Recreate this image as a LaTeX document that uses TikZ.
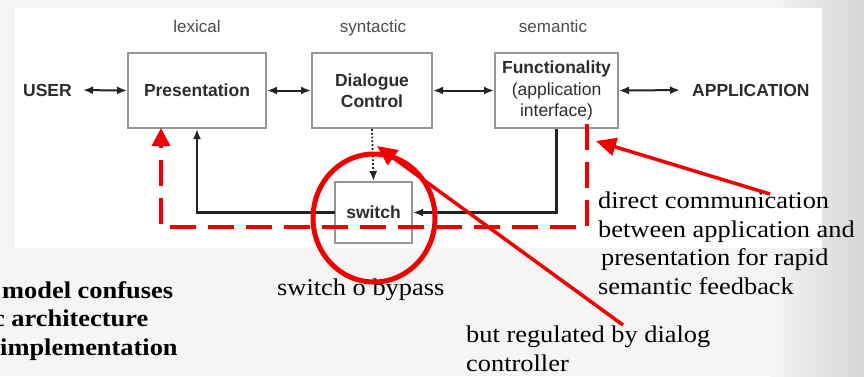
\documentclass[tikz,border=0pt]{standalone}
\usepackage{fontspec}
\setmainfont{Liberation Serif}[FakeStretch=1.1]
\setsansfont{Liberation Sans}
\usetikzlibrary{positioning,arrows,arrows.meta,shapes.geometric}

\definecolor{boxline}{RGB}{150,150,150}
\definecolor{wirecol}{RGB}{35,35,35}
\definecolor{boxtext}{RGB}{45,45,45}
\definecolor{slidebg}{RGB}{245,245,245}
\definecolor{slidered}{RGB}{240,0,0}

\tikzset{
  layerbox/.style={draw=boxline, line width=2pt, fill=white, inner sep=0pt, align=center,
    text=boxtext, font=\sffamily\bfseries\fontsize{17.5}{21.5}\selectfont},
  layerlabel/.style={anchor=base, text=boxtext!85, font=\sffamily\fontsize{17}{20}\selectfont},
  endlabel/.style={inner sep=2pt, text=boxtext, font=\sffamily\bfseries\fontsize{17.5}{20}\selectfont},
  link/.style={draw=wirecol, line width=2pt, {Latex[length=10pt,width=8pt]}-{Latex[length=10pt,width=8pt]}},
  wire/.style={draw=wirecol, line width=2.2pt, -{Latex[length=10pt,width=8pt]}},
  note/.style={inner sep=0pt, align=left, anchor=north west, font=\fontsize{24}{28.5}\selectfont},
  redmark/.style={draw=slidered, line width=3.5pt},
}

\begin{document}
\begin{tikzpicture}[x=1pt,y=-1pt,>=latex]
  \useasboundingbox (0,0) rectangle (864,376);
  % slide and panel
  \fill[slidebg] (0,0) rectangle (864,376);
  \shade[left color=slidebg, right color=white!84!black] (770,0) rectangle (864,376);
  \fill[white] (15,8) rectangle (822,248);

  \path
  % layers
  (197,90.5)   node[layerbox, minimum width=138pt, minimum height=75pt] (pres) {Presentation}
  (372,90.5)   node[layerbox, minimum width=120pt, minimum height=75pt] (dialog) {Dialogue\\Control}
  (556.5,90.5) node[layerbox, minimum width=123pt, minimum height=75pt] (func)
      {Functionality\\{\mdseries(application}\\{\mdseries interface)}}
  (373.5,212.5) node[layerbox, minimum width=77pt, minimum height=61pt] (switch) {switch}
  % level names
  (197,32) node[layerlabel] (lexical) {lexical}
  (373,32) node[layerlabel] (syntactic) {syntactic}
  (553,32) node[layerlabel] (semantic) {semantic}
  % ends
  (74,90)  node[endlabel, anchor=east] (user) {USER}
  (690,90) node[endlabel, anchor=west] (app) {APPLICATION};

  \draw[link, shorten <=9pt] (user.east) -- (pres.west);
  \draw[link] (pres.east) -- (dialog.west);
  \draw[link] (dialog.east) -- (func.west);
  \draw[link, shorten >=10pt] (func.east) -- (app.west);
  \draw[wire, line width=1.8pt, dotted] (dialog.south) -- (switch.north);
  \draw[wire] (func.south) |- (switch.east);
  \draw[wire] ([xshift=1pt]switch.west) -| (pres.south);

  % notes
  \node[note] (directnote) at (598,192)
    {direct communication\\between application and\\\hspace*{3pt}presentation for rapid\\semantic feedback};
  \node[note] (bypassnote) at (277,279) {switch o bypass};
  \node[note] (regnote) at (466,326) {but regulated by dialog\\controller};
  \node[note, font=\bfseries\fontsize{24}{28.5}\selectfont] (leftnote) at (2,281)
    {model confuses\\\hspace*{-9pt}c architecture\\\hspace*{-2pt}implementation};

  % red marks
  \coordinate (bypassstart) at ([xshift=30.5pt,yshift=5pt]func.south);
  \coordinate (bypassend) at ([xshift=-36pt,yshift=1pt]pres.south);
  \draw[redmark, dash pattern=on 26pt off 12pt, -{Triangle[length=18pt,width=18pt]}]
    (bypassstart) -- ++(0,103) -| (bypassend);
  \node[redmark, line width=5pt, ellipse, minimum width=122pt, minimum height=128pt, inner sep=0pt]
    (ring) at (374,218) {};
  \coordinate (directtail) at ([xshift=172pt,yshift=-2pt]directnote.north west);
  \draw[redmark, -{Triangle[length=20pt,width=18pt]}] (directtail) -- ([xshift=39.5pt,yshift=-12pt]func.south);
  \coordinate (regtail) at ([xshift=157pt,yshift=1pt]regnote.north west);
  \draw[redmark, -{Triangle[length=20pt,width=18pt]}] (regtail) -- ([xshift=5pt,yshift=-17pt]dialog.south);
\end{tikzpicture}
\end{document}
